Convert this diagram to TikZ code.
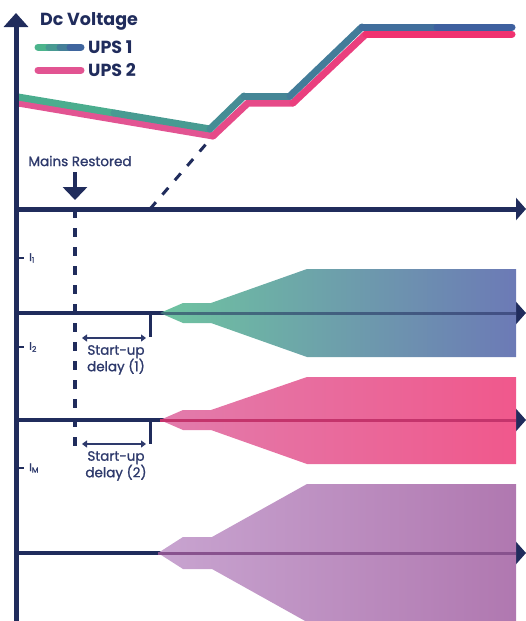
\documentclass[tikz,border=0pt]{standalone}
\usepackage{fontspec}
\setmainfont{Poppins}
\newfontfamily\labelfont{Poppins}[FakeBold=1.2]
\usetikzlibrary{arrows.meta,positioning}
\definecolor{navy}{RGB}{32,44,92}
\definecolor{labelblue}{RGB}{46,58,108}
\definecolor{upsAa}{RGB}{76,180,140}
\definecolor{upsAb}{RGB}{62,92,160}
\definecolor{upsBa}{RGB}{226,84,146}
\definecolor{upsBb}{RGB}{240,50,112}
\definecolor{fillAa}{RGB}{110,196,160}
\definecolor{fillAb}{RGB}{108,122,182}
\definecolor{fillBa}{RGB}{226,124,172}
\definecolor{fillBb}{RGB}{240,88,140}
\definecolor{fillCa}{RGB}{200,164,208}
\definecolor{fillCb}{RGB}{176,120,176}
\definecolor{lineB}{RGB}{196,52,108}
\definecolor{lineC}{RGB}{136,82,142}
\begin{document}
\begin{tikzpicture}[x=1pt, y=-1pt, node distance={6pt},
    axis/.style = {draw=navy, line width=5pt},
    level/.style = {draw=navy, line width=3.5pt},
    tip/.style = {-{Triangle[length=10pt,width=22pt]}},
    volt/.style = {line width=7pt, line cap=round},
    legend/.style = {text=navy, font=\bfseries\fontsize{17.5}{19}\selectfont, inner sep=0pt},
    small/.style = {text=labelblue, font=\labelfont\fontsize{13.5}{16.5}\selectfont, inner sep=0pt, align=center},
    cur/.style = {text=labelblue, font=\labelfont\fontsize{11}{11}\selectfont, inner sep=0pt},
    dashline/.style = {draw=navy, line width=3pt, dash pattern=on 9pt off 10pt},
    inner/.style = {line width=3pt},
    delay/.style = {draw=labelblue, line width=1.3pt, {Triangle[length=5pt,width=7pt]}-{Triangle[length=5pt,width=7pt]}}]
	\useasboundingbox (0,0) rectangle (526,621);
	\coordinate (A0) at (18,97);
	\coordinate (A01) at (114,113);
	\coordinate (A1) at (210,129);
	\coordinate (A2) at (244,96);
	\coordinate (A3) at (290,96);
	\coordinate (A4) at (362,27);
	\coordinate (A45) at (437,27);
	\coordinate (A5) at (512,27);
	\coordinate (B0) at (18,103);
	\coordinate (B1) at (213,136);
	\coordinate (B2) at (248,103);
	\coordinate (B3) at (293,103);
	\coordinate (B4) at (366,34);
	\coordinate (B5) at (512,34);
	\draw[volt, upsBa] (B0) -- (B1);
	\draw[volt, upsBb!30!upsBa] (B1) -- (B2) -- (B3);
	\draw[volt, upsBb!60!upsBa] (B3) -- (B4);
	\draw[volt, upsBb] (B4) -- (B5);
	\draw[volt, upsAb!8!upsAa] (A0) -- (A01);
	\draw[volt, upsAb!28!upsAa] (A01) -- (A1);
	\draw[volt, upsAb!45!upsAa] (A1) -- (A2);
	\draw[volt, upsAb!52!upsAa] (A2) -- (A3);
	\draw[volt, upsAb!64!upsAa] (A3) -- (A4);
	\draw[volt, upsAb!80!upsAa] (A4) -- (A45);
	\draw[volt, upsAb!96!upsAa] (A45) -- (A5);
	\node[legend, anchor=west] (dcv) at (40,21) {Dc Voltage};
	\coordinate (L1a) at (38,47);
	\coordinate (L1p) at (49,47);
	\coordinate (L1q) at (60,47);
	\coordinate (L1r) at (70,47);
	\coordinate (L1b) at (81,47);
	\coordinate (L2a) at (38,70);
	\coordinate (L2b) at (81,70);
	\draw[volt, upsAa] (L1a) -- (L1p);
	\draw[volt, upsAb!30!upsAa] (L1p) -- (L1q);
	\draw[volt, upsAb!60!upsAa] (L1q) -- (L1r);
	\draw[volt, upsAb!90!upsAa] (L1r) -- (L1b);
	\draw[volt, upsBa] (L2a) -- (L2b);
	\node[legend, right=7pt of L1b] (ups1) {UPS 1};
	\node[legend, right=7pt of L2b] (ups2) {UPS 2};
	\node[small] (mains) at (80,161) {Mains Restored};
	\coordinate (M0) at (75,172);
	\coordinate (M1) at (75,200);
	\draw[navy, line width=4pt, -{Triangle[length=13pt,width=24pt]}] (M0) -- (M1);
	\coordinate (D0) at (150,209);
	\draw[dashline, shorten >=5pt] (D0) -- (B1);
	\coordinate (a0) at (16,209);
	\coordinate (a1) at (526,209);
	\coordinate (b0) at (16,313);
	\coordinate (b1) at (526,313);
	\coordinate (c0) at (16,420);
	\coordinate (c1) at (526,420);
	\coordinate (d0) at (16,553);
	\coordinate (d1) at (526,553);
	\draw[level, tip] (b0) -- (b1);
	\draw[level, tip] (c0) -- (c1);
	\draw[level, tip] (d0) -- (d1);
	\shade[left color=fillAa, right color=fillAb] (160,313) -- (183,303) -- (211,303) -- (307,269) -- (516,269) -- (516,357) -- (307,357) -- (211,323) -- (183,323) -- cycle;
	\shade[left color=fillBa, right color=fillBb] (160,420) -- (183,410) -- (211,410) -- (307,377) -- (516,377) -- (516,464) -- (307,464) -- (211,430) -- (183,430) -- cycle;
	\shade[left color=fillCa, right color=fillCb] (158,553) -- (183,537) -- (212,537) -- (307,484) -- (516,484) -- (516,622) -- (307,622) -- (212,569) -- (183,569) -- cycle;
	\coordinate (S1) at (160,313);
	\coordinate (E1) at (516,313);
	\coordinate (S2) at (160,420);
	\coordinate (E2) at (516,420);
	\coordinate (S3) at (158,553);
	\coordinate (E3) at (516,553);
	\draw[inner, navy, draw opacity=0.55] (S1) -- (E1);
	\draw[inner, lineB] (S2) -- (E2);
	\draw[inner, lineC] (S3) -- (E3);
	\coordinate (V0) at (75,209);
	\coordinate (V1) at (75,447);
	\draw[dashline, line width=3.5pt] (V0) -- (V1);
	\coordinate (K1a) at (150,313);
	\coordinate (K1b) at (150,337);
	\coordinate (K2a) at (150,420);
	\coordinate (K2b) at (150,444);
	\draw[navy, line width=3pt] (K1a) -- (K1b);
	\draw[navy, line width=3pt] (K2a) -- (K2b);
	\coordinate (Q1a) at (82,338);
	\coordinate (Q1b) at (146,338);
	\coordinate (Q2a) at (82,444);
	\coordinate (Q2b) at (146,444);
	\draw[delay] (Q1a) -- (Q1b);
	\draw[delay] (Q2a) -- (Q2b);
	\node[small, anchor=north] (delay1) at (116,345) {Start-up\\delay (1)};
	\node[small, anchor=north] (delay2) at (116,451) {Start-up\\delay (2)};
	\coordinate (T1a) at (16,258);
	\coordinate (T1b) at (24,258);
	\coordinate (T2a) at (16,347);
	\coordinate (T2b) at (24,347);
	\coordinate (T3a) at (16,468);
	\coordinate (T3b) at (24,468);
	\draw[navy, line width=2.5pt] (T1a) -- (T1b);
	\draw[navy, line width=2.5pt] (T2a) -- (T2b);
	\draw[navy, line width=2.5pt] (T3a) -- (T3b);
	\node[cur, right=5pt of T1b] (i1) {I\textsubscript{1}};
	\node[cur, right=5pt of T2b] (i2) {I\textsubscript{2}};
	\node[cur, right=5pt of T3b] (iM) {I\textsubscript{M}};
	\coordinate (O) at (16,621);
	\coordinate (Ytop) at (16,13);
	\draw[axis, tip] (a0) -- (a1);
	\draw[axis, -{Triangle[length=14pt,width=24pt]}] (O) -- (Ytop);
\end{tikzpicture}
\end{document}
